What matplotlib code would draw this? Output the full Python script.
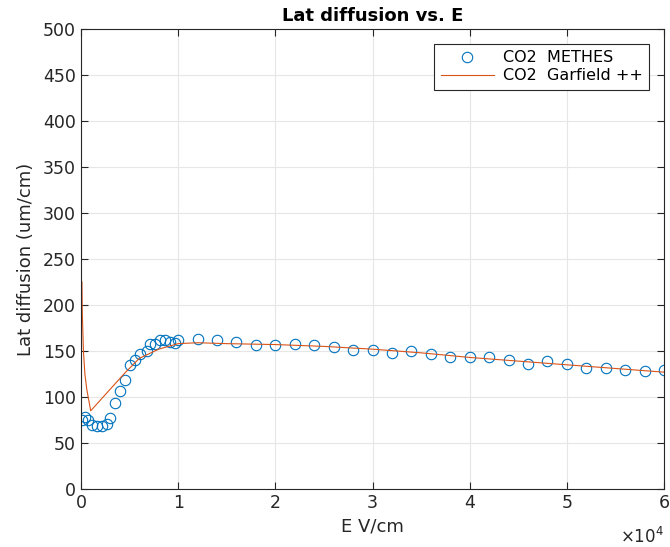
import matplotlib.pyplot as plt
import numpy as np
from matplotlib.ticker import FuncFormatter

# METHES simulation points (E in V/cm, lateral diffusion in um/cm)
methes_E = [70, 410, 750, 1100, 1600, 2130, 2640, 2990, 3500, 4010, 4530, 5040,
            5560, 6070, 6760, 7100, 7610, 8130, 8640, 9160, 9670, 10000,
            12000, 14000, 16000, 18000, 20000, 22000, 24000, 26000, 28000, 30000,
            32000, 34000, 36000, 38000, 40000, 42000, 44000, 46000, 48000, 50000,
            52000, 54000, 56000, 58000, 60000]
methes_D = [75, 78, 75, 70, 68, 68, 71, 77, 93, 107, 119, 135,
            140, 147, 150, 158, 158, 162, 162, 160, 159, 162,
            163, 162, 160, 157, 157, 158, 157, 154, 151, 151,
            148, 150, 147, 143, 143, 143, 140, 136, 139, 136,
            132, 132, 129, 128, 129]

# Garfield++ curve
garf_E = [100, 130, 250, 400, 600, 1000, 4500, 6000, 8000, 10000, 12000, 15000,
          20000, 25000, 30000, 35000, 40000, 45000, 50000, 55000, 60000]
garf_D = [225, 193, 150, 125, 108, 85, 126, 142, 152, 158, 159, 158,
          157, 155, 152, 148, 143, 139, 135, 131, 127]

fig = plt.figure(figsize=(6.7, 5.47), dpi=100)
ax = fig.add_axes([81/670, 58/547, 583/670, 460/547])

ax.plot(methes_E, methes_D, 'o', mfc='none', mec='#0072BD', ms=7.5, mew=0.8,
        label='CO2  METHES')
ax.plot(garf_E, garf_D, '-', color='#D95319', lw=0.8, label='CO2  Garfield ++')

ax.set_xlim(0, 60000)
ax.set_ylim(0, 500)
ax.set_xticks(np.arange(0, 60001, 10000))
ax.set_yticks(np.arange(0, 501, 50))
ax.xaxis.set_major_formatter(FuncFormatter(lambda v, p: '%d' % round(v / 1e4)))
ax.grid(True, color='#e6e6e6', lw=0.8)
ax.set_axisbelow(True)
ax.tick_params(direction='in', top=True, right=True, labelsize=12.5,
               colors='#262626', length=5, width=0.8)
for s in ax.spines.values():
    s.set_color('#262626')
    s.set_linewidth(0.8)

ax.set_title('Lat diffusion vs. E', fontsize=13, fontweight='bold', pad=6)
ax.set_xlabel('E V/cm', fontsize=13, color='#262626', labelpad=4)
ax.set_ylabel('Lat diffusion (um/cm)', fontsize=13, color='#262626', labelpad=6)
fig.text(664/670, 1 - 537/547, r'$\times10^4$', ha='right', va='center',
         fontsize=12, color='#262626')

leg = ax.legend(loc='upper right', bbox_to_anchor=(0.975, 0.968), borderaxespad=0,
                fontsize=11.5, fancybox=False, edgecolor='#262626', framealpha=1,
                handlelength=3.3, borderpad=0.4, labelspacing=0.2, handletextpad=0.6)
leg.get_frame().set_linewidth(0.8)

fig.savefig('out.png', dpi=100)
